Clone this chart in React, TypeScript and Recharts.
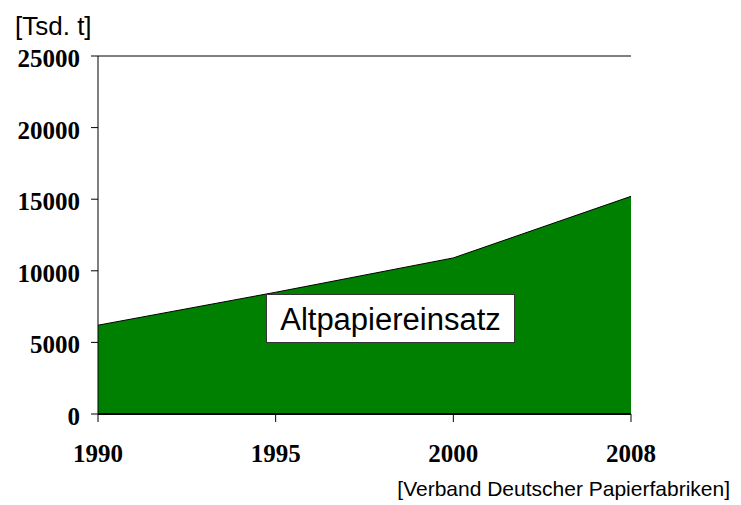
import React from "react";
import { AreaChart, Area, XAxis, YAxis, CartesianGrid } from "recharts";

const years = ["1990", "1995", "2000", "2008"];
const altpapier = [6200, 8500, 10900, 15200];
const yTicks = [0, 5000, 10000, 15000, 20000, 25000];

const data = years.map((y, i) => ({ year: y, value: altpapier[i] }));

const serif = "'Liberation Serif', 'Times New Roman', serif";
const sans = "'Liberation Sans', Arial, sans-serif";

const XTick = (props: any) => {
  const { x, y, payload } = props;
  return (
    <text x={x} y={y} dy={39.5} textAnchor="middle" fontFamily={serif} fontWeight="bold" fontSize={25} fill="#000">
      {payload.value}
    </text>
  );
};

const YTick = (props: any) => {
  const { x, y, payload } = props;
  return (
    <text x={x} y={y} dx={-11} dy={11} textAnchor="end" fontFamily={serif} fontWeight="bold" fontSize={25} fill="#000">
      {payload.value}
    </text>
  );
};

export default function App() {
  return (
    <div style={{ position: "absolute", left: 0, top: 0, width: 741, height: 505, background: "#fff" }}>
      <AreaChart width={741} height={505} data={data} margin={{ top: 56, right: 110, left: 0, bottom: 31 }}>
        <CartesianGrid vertical={false} horizontal={true} stroke="#000" strokeWidth={1} />
        <XAxis
          dataKey="year"
          height={60}
          tickSize={8}
          tickMargin={0}
          tick={<XTick />}
          interval={0}
          axisLine={{ stroke: "#000", strokeWidth: 2 }}
          tickLine={{ stroke: "#000" }}
        />
        <YAxis
          yAxisId="left"
          width={98}
          domain={[0, 25000]}
          ticks={yTicks}
          interval={0}
          tickSize={7}
          tickMargin={0}
          tick={<YTick />}
          axisLine={{ stroke: "#000" }}
          tickLine={{ stroke: "#000" }}
        />
        <YAxis
          yAxisId="right"
          orientation="right"
          width={0}
          domain={[0, 25000]}
          tick={false}
          tickLine={false}
          axisLine={{ stroke: "#000" }}
        />
        <Area
          yAxisId="left"
          type="linear"
          dataKey="value"
          stroke="#000"
          strokeWidth={1}
          fill="#008000"
          fillOpacity={1}
          isAnimationActive={false}
          dot={false}
          activeDot={false}
        />
      </AreaChart>
      <svg width={741} height={505} style={{ position: "absolute", left: 0, top: 0, pointerEvents: "none" }}>
        <text x={15} y={35} fontFamily={sans} fontSize={26} fill="#000">[Tsd. t]</text>
        <rect x={266.5} y={294.5} width={248} height={48} fill="#fff" stroke="#333" strokeWidth={1} />
        <text x={390.5} y={330} textAnchor="middle" fontFamily={sans} fontSize={31} fill="#000">Altpapiereinsatz</text>
        <text x={730} y={496} textAnchor="end" fontFamily={sans} fontSize={21} fill="#000">[Verband Deutscher Papierfabriken]</text>
      </svg>
    </div>
  );
}
